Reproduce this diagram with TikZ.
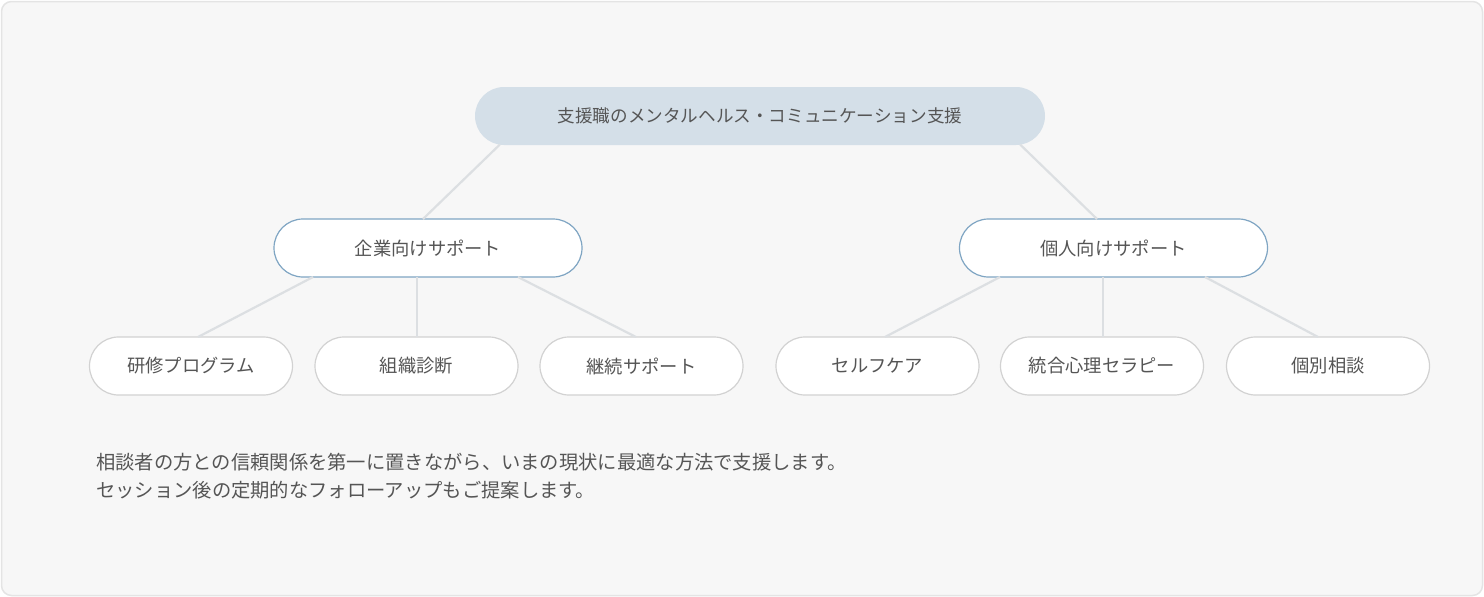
\documentclass[tikz,border=0pt]{standalone}
\usepackage{fontspec}
\setmainfont{Noto Sans CJK JP}
\usetikzlibrary{calc}
\definecolor{bgfill}{HTML}{F7F7F7}
\definecolor{bgline}{HTML}{E4E4E4}
\definecolor{topfill}{HTML}{D4DFE8}
\definecolor{midline}{HTML}{7FA5C3}
\definecolor{leafline}{HTML}{D2D2D2}
\definecolor{conn}{HTML}{DCDFE2}
\definecolor{txt}{HTML}{555555}
\tikzset{
  pill/.style={rectangle, rounded corners=29pt, minimum height=58pt, inner sep=0pt,
    text=txt, font=\fontsize{18.3pt}{20pt}\selectfont},
  topbox/.style={pill, fill=topfill, minimum width=570pt, font=\fontsize{17.6pt}{20pt}\selectfont},
  midbox/.style={pill, fill=white, draw=midline, line width=1.2pt, minimum width=308pt},
  leafbox/.style={pill, fill=white, draw=leafline, line width=1.2pt, minimum width=203pt},
  connector/.style={draw=conn, line width=2.2pt},
  bodytext/.style={text=txt, font=\fontsize{19.3pt}{28pt}\selectfont, align=left, inner sep=0pt, anchor=north west}
}
\begin{document}
\begin{tikzpicture}[x=1pt,y=-1pt]
\useasboundingbox (0,0) rectangle (1484,597);
\draw[fill=bgfill, draw=bgline, line width=1.5pt, rounded corners=10pt] (1.5,1.5) rectangle (1482.5,595.5);

\node[topbox] (top) at (760,116) {支援職のメンタルヘルス・コミュニケーション支援};
\node[midbox] (kigyo) at (428,248) {企業向けサポート};
\node[midbox] (kojin) at (1113.5,248) {個人向けサポート};

\node[leafbox] (l1) at (191,366) {研修プログラム};
\node[leafbox] (l2) at (416.5,366) {組織診断};
\node[leafbox] (l3) at (641.5,366) {継続サポート};
\node[leafbox] (l4) at (877.5,366) {セルフケア};
\node[leafbox] (l5) at (1102,366) {統合心理セラピー};
\node[leafbox] (l6) at (1328,366) {個別相談};

\draw[connector] ($(top.south west)+(25,-0.6)$) -- ($(kigyo.north)+(-5,0.6)$);
\draw[connector] ($(top.south east)+(-25,-0.6)$) -- ($(kojin.north)+(-16.5,0.6)$);

\draw[connector] ($(kigyo.south)+(-115,-0.6)$) -- ($(l1.north)+(7,0.6)$);
\draw[connector] ($(kigyo.south)+(-11,-0.6)$) -- ($(l2.north)+(0.5,0.6)$);
\draw[connector] ($(kigyo.south)+(90,-0.6)$) -- ($(l3.north)+(-5.5,0.6)$);

\draw[connector] ($(kojin.south)+(-113.5,-0.6)$) -- ($(l4.north)+(7.5,0.6)$);
\draw[connector] ($(kojin.south)+(-10.5,-0.6)$) -- ($(l5.north)+(1,0.6)$);
\draw[connector] ($(kojin.south)+(91.5,-0.6)$) -- ($(l6.north)+(-10,0.6)$);

\node[bodytext] (body) at (96,453) {相談者の方との信頼関係を第一に置きながら、いまの現状に最適な方法で支援します。\\セッション後の定期的なフォローアップもご提案します。};
\end{tikzpicture}
\end{document}
